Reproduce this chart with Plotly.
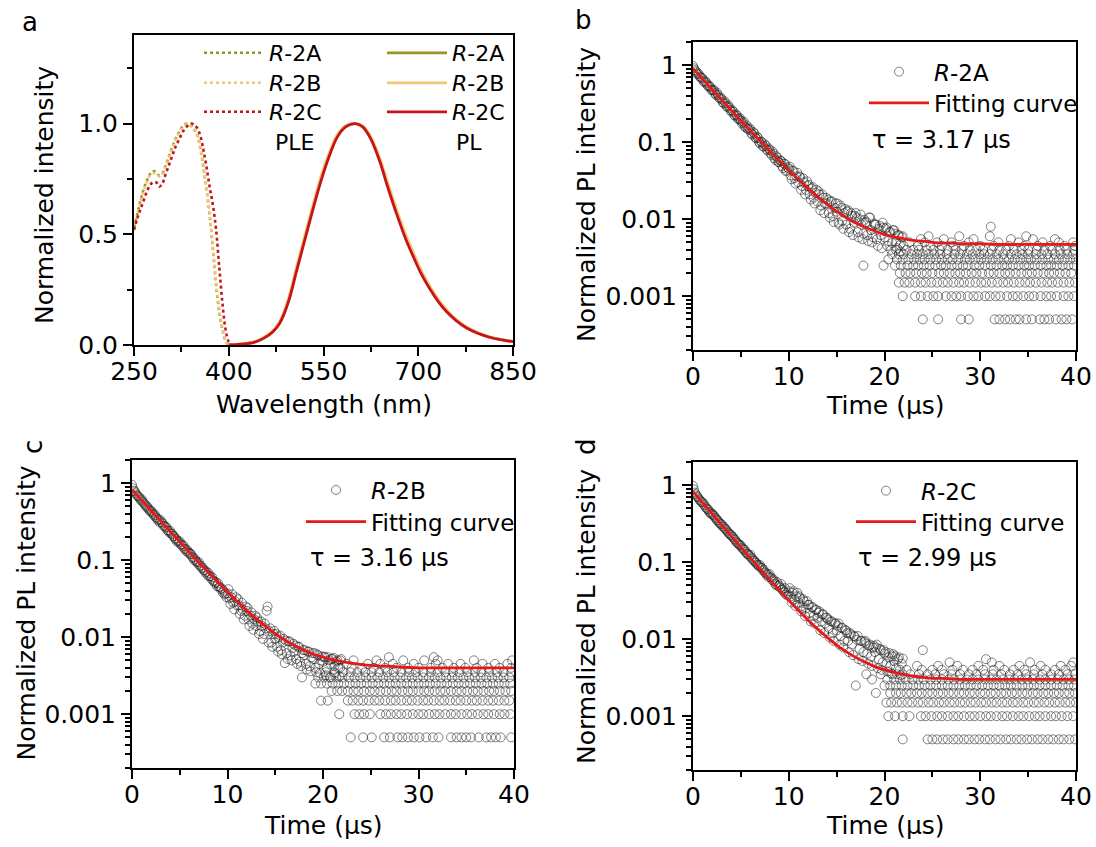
import plotly.graph_objects as go

W, H = 1096, 847
FONT = "DejaVu Sans"

# ---------------- panel a : PLE / PL spectra ----------------
ple_wl = [250, 255, 260, 265, 270, 275, 280, 285, 290, 295, 300, 305, 310, 315, 320, 325,
          330, 335, 340, 345, 350, 355, 360, 365, 370, 375, 380, 385, 390, 395, 400, 405]
ple_2a = [0.53, 0.59, 0.65, 0.70, 0.74, 0.77, 0.785, 0.78, 0.765, 0.775, 0.81, 0.85, 0.89, 0.925, 0.955, 0.98,
          0.995, 1.0, 0.99, 0.975, 0.95, 0.89, 0.80, 0.70, 0.58, 0.43, 0.27, 0.15, 0.07, 0.02, 0.0, 0.0]
ple_2b = [0.52, 0.585, 0.645, 0.695, 0.735, 0.765, 0.775, 0.775, 0.76, 0.77, 0.805, 0.845, 0.885, 0.92, 0.95, 0.975,
          0.99, 1.0, 0.99, 0.975, 0.945, 0.885, 0.80, 0.70, 0.585, 0.44, 0.28, 0.16, 0.075, 0.025, 0.002, 0.0]
ple_2c = [0.52, 0.57, 0.61, 0.65, 0.69, 0.72, 0.735, 0.735, 0.715, 0.73, 0.77, 0.81, 0.85, 0.89, 0.92, 0.95,
          0.975, 0.99, 1.0, 0.995, 0.98, 0.945, 0.88, 0.80, 0.71, 0.63, 0.52, 0.35, 0.19, 0.07, 0.015, 0.0]

pl_wl = [400, 420, 440, 455, 470, 481, 495, 507, 520, 534, 547, 560, 572, 585, 600, 612,
         625, 639, 652, 666, 680, 692, 705, 718, 732, 745, 760, 776, 795, 813, 830, 850]
pl_2a = [0.0, 0.004, 0.013, 0.031, 0.062, 0.103, 0.205, 0.34, 0.48, 0.63, 0.76, 0.865, 0.945, 0.988, 1.0, 0.988,
         0.935, 0.837, 0.72, 0.60, 0.49, 0.41, 0.327, 0.26, 0.20, 0.154, 0.113, 0.08, 0.054, 0.036, 0.025, 0.015]
pl_2b = [0.0, 0.005, 0.014, 0.033, 0.066, 0.108, 0.215, 0.35, 0.49, 0.64, 0.77, 0.875, 0.95, 0.99, 1.0, 0.99,
         0.94, 0.845, 0.73, 0.61, 0.50, 0.42, 0.335, 0.268, 0.205, 0.158, 0.116, 0.082, 0.055, 0.037, 0.025, 0.016]
pl_2c = [0.0, 0.004, 0.012, 0.03, 0.06, 0.10, 0.20, 0.33, 0.47, 0.62, 0.75, 0.86, 0.94, 0.985, 1.0, 0.985,
         0.93, 0.83, 0.71, 0.59, 0.48, 0.40, 0.32, 0.255, 0.195, 0.15, 0.11, 0.078, 0.052, 0.035, 0.024, 0.015]

# ---------------- panels b-d : PL decay ----------------
decay_t = [0.0, 0.2, 0.4, 0.6, 0.8, 1.0, 1.2, 1.4, 1.6, 1.8, 2.0, 2.2, 2.4, 2.6, 2.8,
           3.0, 3.2, 3.4, 3.6, 3.8, 4.0, 4.2, 4.4, 4.6, 4.8, 5.0, 5.2, 5.4, 5.6, 5.8,
           6.0, 6.2, 6.4, 6.6, 6.8, 7.0, 7.2, 7.4, 7.6, 7.8, 8.0, 8.2, 8.4, 8.6, 8.8,
           9.0, 9.2, 9.4, 9.6, 9.8, 10.0, 10.2, 10.4, 10.6, 10.8, 11.0, 11.2, 11.4, 11.6, 11.8,
           12.0, 12.2, 12.4, 12.6, 12.8, 13.0, 13.2, 13.4, 13.6, 13.8, 14.0, 14.2, 14.4, 14.6, 14.8,
           15.0, 15.2, 15.4, 15.6, 15.8, 16.0, 16.2, 16.4, 16.6, 16.8, 17.0, 17.2, 17.4, 17.6, 17.8,
           18.0, 18.2, 18.4, 18.6, 18.8, 19.0, 19.2, 19.4, 19.6, 19.8, 20.0, 20.2, 20.4, 20.6, 20.8,
           21.0, 21.2, 21.4, 21.6, 21.8]
decay_t2 = [0.1, 0.3, 0.5, 0.7, 0.9, 1.1, 1.3, 1.5, 1.7, 1.9, 2.1, 2.3, 2.5, 2.7, 2.9,
            3.1, 3.3, 3.5, 3.7, 3.9, 4.1, 4.3, 4.5, 4.7, 4.9, 5.1, 5.3, 5.5, 5.7, 5.9,
            6.1, 6.3, 6.5, 6.7, 6.9, 7.1, 7.3, 7.5, 7.7, 7.9, 8.1, 8.3, 8.5, 8.7, 8.9,
            9.1, 9.3, 9.5, 9.7, 9.9, 10.1, 10.3, 10.5, 10.7, 10.9, 11.1, 11.3, 11.5, 11.7, 11.9,
            12.1, 12.3, 12.5, 12.7, 12.9, 13.1, 13.3, 13.5, 13.7, 13.9, 14.1, 14.3, 14.5, 14.7, 14.9,
            15.1, 15.3, 15.5, 15.7, 15.9, 16.1, 16.3, 16.5, 16.7, 16.9, 17.1, 17.3, 17.5, 17.7, 17.9,
            18.1, 18.3, 18.5, 18.7, 18.9, 19.1, 19.3, 19.5, 19.7, 19.9, 20.1, 20.3, 20.5, 20.7, 20.9,
            21.1, 21.3, 21.5, 21.7, 21.9]

b_decay = [0.98, 0.86, 0.77, 0.76, 0.69, 0.67, 0.60, 0.59, 0.53, 0.52, 0.47, 0.47, 0.41, 0.41, 0.37,
           0.36, 0.32, 0.32, 0.29, 0.28, 0.25, 0.25, 0.22, 0.22, 0.20, 0.19, 0.18, 0.16, 0.165, 0.145,
           0.145, 0.125, 0.13, 0.112, 0.113, 0.096, 0.10, 0.088, 0.09, 0.078, 0.08, 0.068, 0.071, 0.059, 0.063,
           0.055, 0.057, 0.046, 0.052, 0.043, 0.045, 0.037, 0.043, 0.034, 0.036, 0.030, 0.035, 0.027, 0.030, 0.024,
           0.027, 0.021, 0.025, 0.019, 0.022, 0.017, 0.021, 0.015, 0.019, 0.016, 0.016, 0.012, 0.017, 0.011, 0.014,
           0.0125, 0.009, 0.015, 0.0095, 0.012, 0.0085, 0.013, 0.0075, 0.011, 0.009, 0.012, 0.0068, 0.010, 0.0085, 0.0065,
           0.009, 0.0062, 0.0105, 0.0072, 0.0058, 0.0085, 0.0055, 0.0075, 0.0062, 0.009, 0.0058, 0.0078, 0.0052, 0.0068, 0.0049,
           0.0072, 0.0051, 0.0062, 0.0046, 0.0058]
b_decay2 = [0.91, 0.83, 0.79, 0.71, 0.69, 0.62, 0.62, 0.55, 0.54, 0.48, 0.48, 0.43, 0.44, 0.38, 0.38,
            0.33, 0.34, 0.29, 0.30, 0.26, 0.26, 0.225, 0.23, 0.20, 0.205, 0.175, 0.185, 0.155, 0.15, 0.152,
            0.13, 0.135, 0.115, 0.118, 0.10, 0.102, 0.088, 0.094, 0.080, 0.083, 0.072, 0.076, 0.062, 0.066, 0.055,
            0.058, 0.049, 0.053, 0.042, 0.047, 0.048, 0.033, 0.042, 0.029, 0.040, 0.036, 0.024, 0.034, 0.021, 0.031,
            0.028, 0.018, 0.026, 0.016, 0.024, 0.023, 0.013, 0.021, 0.012, 0.019, 0.018, 0.0105, 0.017, 0.0092, 0.016,
            0.016, 0.0085, 0.014, 0.0075, 0.0135, 0.0125, 0.0068, 0.012, 0.0062, 0.011, 0.0105, 0.0058, 0.0115, 0.0055, 0.0098,
            0.0092, 0.0052, 0.0105, 0.005, 0.0088, 0.0085, 0.0045, 0.0082, 0.0042, 0.0078, 0.0075, 0.0045, 0.0068, 0.004, 0.0072,
            0.0065, 0.0042, 0.0062, 0.0038, 0.006]
c_decay = [0.95, 0.80, 0.74, 0.68, 0.64, 0.62, 0.56, 0.52, 0.50, 0.45, 0.44, 0.40, 0.39, 0.35, 0.34,
           0.33, 0.30, 0.28, 0.27, 0.24, 0.24, 0.22, 0.205, 0.19, 0.18, 0.175, 0.16, 0.155, 0.14, 0.135,
           0.125, 0.12, 0.108, 0.104, 0.095, 0.094, 0.085, 0.080, 0.074, 0.071, 0.068, 0.062, 0.060, 0.053, 0.052,
           0.050, 0.045, 0.043, 0.040, 0.037, 0.037, 0.032, 0.033, 0.028, 0.029, 0.026, 0.026, 0.022, 0.023, 0.019,
           0.022, 0.017, 0.019, 0.015, 0.017, 0.014, 0.016, 0.012, 0.014, 0.011, 0.013, 0.025, 0.012, 0.0085, 0.011,
           0.0095, 0.0075, 0.010, 0.0068, 0.0085, 0.0046, 0.0062, 0.0088, 0.0058, 0.0072, 0.0065, 0.0052, 0.0075, 0.0048, 0.0062,
           0.0058, 0.0045, 0.0065, 0.0042, 0.0055, 0.0052, 0.0040, 0.0060, 0.0045, 0.0050, 0.0048, 0.0055, 0.0040, 0.0050, 0.0045,
           0.0052, 0.0042, 0.0048, 0.0040, 0.0050]
c_decay2 = [0.86, 0.78, 0.70, 0.67, 0.60, 0.58, 0.54, 0.49, 0.47, 0.43, 0.42, 0.38, 0.36, 0.33, 0.31,
            0.31, 0.28, 0.265, 0.245, 0.23, 0.22, 0.205, 0.19, 0.175, 0.17, 0.16, 0.15, 0.14, 0.13, 0.125,
            0.12, 0.11, 0.10, 0.097, 0.09, 0.085, 0.079, 0.074, 0.069, 0.064, 0.062, 0.057, 0.054, 0.050, 0.046,
            0.045, 0.042, 0.038, 0.036, 0.033, 0.042, 0.027, 0.036, 0.023, 0.033, 0.031, 0.020, 0.028, 0.017, 0.025,
            0.024, 0.014, 0.021, 0.0125, 0.019, 0.018, 0.011, 0.016, 0.0095, 0.015, 0.022, 0.0085, 0.013, 0.0075, 0.012,
            0.011, 0.0065, 0.0105, 0.006, 0.0095, 0.009, 0.0052, 0.0088, 0.005, 0.0082, 0.0078, 0.0045, 0.0075, 0.0042, 0.0068,
            0.0068, 0.0038, 0.0065, 0.0036, 0.0062, 0.0062, 0.0035, 0.0058, 0.0034, 0.0056, 0.0056, 0.0032, 0.0055, 0.003, 0.0052,
            0.0054, 0.0034, 0.005, 0.0031, 0.0052]
d_decay = [0.98, 0.80, 0.72, 0.67, 0.62, 0.60, 0.55, 0.50, 0.48, 0.44, 0.43, 0.40, 0.37, 0.35, 0.32,
           0.31, 0.29, 0.27, 0.25, 0.235, 0.225, 0.21, 0.195, 0.18, 0.17, 0.165, 0.15, 0.145, 0.13, 0.125,
           0.125, 0.11, 0.105, 0.098, 0.092, 0.092, 0.084, 0.080, 0.072, 0.070, 0.070, 0.062, 0.060, 0.052, 0.055,
           0.050, 0.052, 0.044, 0.046, 0.040, 0.042, 0.036, 0.040, 0.033, 0.036, 0.030, 0.034, 0.027, 0.031, 0.025,
           0.028, 0.022, 0.026, 0.020, 0.024, 0.019, 0.023, 0.017, 0.021, 0.016, 0.019, 0.014, 0.017, 0.012, 0.016,
           0.013, 0.016, 0.011, 0.014, 0.0095, 0.013, 0.0095, 0.012, 0.0085, 0.011, 0.0025, 0.011, 0.0075, 0.0095, 0.0068,
           0.0095, 0.0065, 0.0082, 0.006, 0.0078, 0.0068, 0.0085, 0.0055, 0.0072, 0.005, 0.0065, 0.0048, 0.0058, 0.0045, 0.006,
           0.0052, 0.0042, 0.0055, 0.004, 0.0048]
d_decay2 = [0.88, 0.76, 0.70, 0.64, 0.60, 0.57, 0.52, 0.49, 0.45, 0.42, 0.41, 0.38, 0.35, 0.33, 0.31,
            0.29, 0.275, 0.26, 0.24, 0.225, 0.215, 0.20, 0.185, 0.175, 0.165, 0.155, 0.145, 0.135, 0.128, 0.12,
            0.115, 0.105, 0.10, 0.093, 0.088, 0.085, 0.078, 0.074, 0.068, 0.064, 0.064, 0.058, 0.056, 0.050, 0.049,
            0.047, 0.044, 0.041, 0.038, 0.037, 0.046, 0.030, 0.042, 0.027, 0.040, 0.036, 0.023, 0.033, 0.020, 0.031,
            0.028, 0.017, 0.026, 0.016, 0.024, 0.022, 0.013, 0.021, 0.012, 0.019, 0.018, 0.0105, 0.017, 0.0095, 0.016,
            0.015, 0.0085, 0.014, 0.0078, 0.013, 0.012, 0.0068, 0.0115, 0.0062, 0.0108, 0.0098, 0.0055, 0.0095, 0.0052, 0.0092,
            0.0088, 0.0048, 0.0085, 0.0045, 0.0082, 0.0078, 0.0042, 0.0075, 0.0040, 0.0072, 0.0068, 0.0038, 0.0066, 0.0036, 0.0064,
            0.006, 0.0035, 0.0058, 0.0034, 0.0056]

# quantised tail (photon-count levels) : level value -> times (us)
b_tail_levels = [0.0005, 0.001, 0.0015, 0.002, 0.0025, 0.003, 0.0035, 0.004, 0.0045, 0.005, 0.0055, 0.006, 0.008]
b_tail_times = [
    [24.0, 25.6, 28.0, 28.8, 31.5, 32.0, 32.6, 33.1, 33.7, 34.1, 34.8, 35.4, 36.2, 36.7, 37.2, 37.9, 38.5, 39.0, 39.6],
    [21.9, 23.2, 23.8, 24.5, 25.1, 25.6, 26.4, 27.0, 27.5, 28.0, 28.7, 29.3, 29.8, 30.5, 31.0, 31.6, 32.1, 32.8, 33.4,
     33.9, 34.5, 35.1, 35.6, 36.3, 36.9, 37.4, 38.0, 38.7, 39.2, 39.8],
    [21.5, 22.1, 22.6, 23.2, 23.8, 24.3, 24.9, 25.5, 26.1, 26.6, 27.2, 27.8, 28.3, 28.9, 29.5, 30.1, 30.6, 31.2, 31.8,
     32.4, 32.9, 33.5, 34.1, 34.7, 35.2, 35.8, 36.4, 37.0, 37.5, 38.1, 38.7, 39.3, 39.9],
    [21.6, 22.2, 22.7, 23.3, 23.9, 24.4, 25.0, 25.7, 26.2, 26.8, 27.4, 27.9, 28.5, 29.1, 29.6, 30.2, 30.9, 31.4, 32.0,
     32.6, 33.1, 33.7, 34.3, 34.9, 35.4, 36.0, 36.6, 37.2, 37.7, 38.3, 38.9, 39.5],
    [17.8, 19.9, 21.1, 21.7, 22.4, 23.0, 23.5, 24.1, 24.7, 25.3, 25.9, 26.4, 27.0, 27.6, 28.2, 28.7, 29.4, 29.9, 30.5,
     31.1, 31.7, 32.3, 32.8, 33.4, 34.0, 34.6, 35.1, 35.7, 36.3, 36.9, 37.4, 38.0, 38.6, 39.2, 39.8],
    [20.4, 21.3, 21.9, 22.5, 23.1, 23.7, 24.2, 24.8, 25.4, 26.0, 26.6, 27.1, 27.7, 28.4, 28.9, 29.5, 30.1, 30.7, 31.3,
     31.9, 32.5, 33.0, 33.6, 34.2, 34.8, 35.3, 35.9, 36.5, 37.1, 37.7, 38.2, 38.8, 39.4, 40.0],
    [20.8, 21.5, 22.0, 22.8, 23.4, 24.0, 24.6, 25.2, 25.8, 26.5, 27.3, 27.9, 28.6, 29.2, 29.9, 30.4, 31.0, 31.7, 32.4,
     33.2, 33.8, 34.4, 35.0, 35.8, 36.4, 37.0, 37.8, 38.4, 39.1, 39.7],
    [21.2, 22.3, 23.0, 23.6, 24.4, 25.1, 25.8, 26.6, 27.4, 28.1, 28.9, 29.6, 30.3, 31.2, 32.0, 32.7, 33.5, 34.3, 35.0,
     35.9, 36.7, 37.5, 38.3, 39.0, 39.8],
    [22.0, 23.5, 24.8, 26.0, 27.2, 28.3, 30.0, 31.4, 33.0, 34.6, 36.0, 37.3, 38.8, 39.9],
    [22.6, 24.2, 25.5, 27.0, 28.8, 31.9, 34.0, 36.5, 38.2, 39.7],
    [23.8, 26.2, 29.3, 33.2, 35.5, 37.8],
    [24.6, 27.8, 31.0, 34.8],
    [31.1],
]
c_tail_levels = [0.0005, 0.001, 0.0015, 0.002, 0.0025, 0.003, 0.0035, 0.004, 0.0045, 0.005, 0.0055]
c_tail_times = [
    [22.9, 24.2, 25.1, 26.4, 27.0, 27.8, 28.3, 28.9, 29.5, 30.1, 30.8, 31.5, 32.1, 33.4, 34.0, 34.5, 35.0, 35.5, 36.3,
     37.1, 37.6, 38.1, 38.6, 39.7],
    [21.7, 23.3, 23.8, 24.3, 24.9, 26.0, 26.6, 27.1, 27.7, 28.2, 28.8, 29.4, 30.0, 30.5, 31.1, 31.7, 32.2, 32.8, 33.4,
     33.9, 34.5, 35.1, 35.6, 36.2, 36.8, 37.3, 37.9, 38.5, 39.0, 39.6],
    [19.8, 20.5, 22.6, 23.1, 23.7, 24.2, 24.8, 25.4, 25.9, 26.5, 27.1, 27.6, 28.2, 28.8, 29.3, 29.9, 30.5, 31.0, 31.6,
     32.2, 32.7, 33.3, 33.9, 34.4, 35.0, 35.6, 36.1, 36.7, 37.3, 37.8, 38.4, 39.0, 39.5],
    [20.9, 21.5, 22.0, 22.6, 23.2, 23.7, 24.3, 24.9, 25.4, 26.0, 26.6, 27.2, 27.7, 28.3, 28.9, 29.4, 30.0, 30.6, 31.1,
     31.7, 32.3, 32.8, 33.4, 34.0, 34.5, 35.1, 35.7, 36.2, 36.8, 37.4, 37.9, 38.5, 39.1, 39.7],
    [19.2, 19.8, 20.4, 21.0, 21.6, 22.2, 22.8, 23.4, 24.0, 24.6, 25.2, 25.8, 26.4, 27.0, 27.6, 28.2, 28.8, 29.4, 30.0,
     30.6, 31.2, 31.8, 32.4, 33.0, 33.6, 34.2, 34.8, 35.4, 36.0, 36.6, 37.2, 37.8, 38.4, 39.0, 39.6],
    [17.8, 19.5, 20.1, 20.8, 21.4, 22.0, 22.7, 23.3, 23.9, 24.5, 25.1, 25.7, 26.3, 26.9, 27.5, 28.1, 28.7, 29.3, 29.9,
     30.5, 31.1, 31.7, 32.3, 32.9, 33.5, 34.1, 34.7, 35.3, 35.9, 36.5, 37.1, 37.7, 38.3, 38.9, 39.5],
    [20.3, 21.2, 22.1, 22.9, 23.6, 24.4, 25.1, 25.9, 26.7, 27.4, 28.2, 29.0, 29.7, 30.5, 31.3, 32.0, 32.8, 33.6, 34.3,
     35.1, 35.9, 36.6, 37.4, 38.2, 38.9, 39.7],
    [21.8, 23.0, 24.1, 25.3, 26.5, 27.7, 28.9, 30.0, 31.3, 32.5, 33.7, 34.9, 36.1, 37.3, 38.5, 39.7],
    [22.5, 24.7, 26.0, 27.3, 29.5, 31.8, 33.1, 34.4, 36.7, 38.0, 39.3],
    [23.2, 25.6, 28.4, 30.6, 32.0, 35.8, 39.8],
    [26.9, 31.6],
]
d_tail_levels = [0.0005, 0.001, 0.0015, 0.002, 0.0025, 0.003, 0.0035, 0.004, 0.0045, 0.005, 0.0055, 0.0072]
d_tail_times = [
    [21.9, 24.5, 25.0, 25.5, 26.1, 26.6, 27.2, 27.7, 28.3, 28.8, 29.4, 29.9, 30.5, 31.0, 31.6, 32.1, 32.7, 33.2, 33.8,
     34.3, 34.9, 35.4, 36.0, 36.5, 37.1, 37.6, 38.2, 38.7, 39.3, 39.9],
    [20.4, 21.1, 21.9, 22.6, 23.8, 24.3, 24.9, 25.5, 26.0, 26.6, 27.2, 27.7, 28.3, 28.9, 29.4, 30.0, 30.6, 31.1, 31.7,
     32.3, 32.8, 33.4, 34.0, 34.5, 35.1, 35.7, 36.2, 36.8, 37.4, 37.9, 38.5, 39.1, 39.7],
    [20.2, 20.7, 21.3, 21.8, 22.4, 22.9, 23.5, 24.0, 24.6, 25.1, 25.7, 26.2, 26.8, 27.3, 27.9, 28.4, 29.0, 29.5, 30.1,
     30.6, 31.2, 31.7, 32.3, 32.8, 33.4, 33.9, 34.5, 35.0, 35.6, 36.1, 36.7, 37.2, 37.8, 38.3, 38.9, 39.4, 40.0],
    [19.1, 20.6, 21.2, 21.7, 22.3, 22.8, 23.4, 23.9, 24.5, 25.0, 25.6, 26.1, 26.7, 27.2, 27.8, 28.3, 28.9, 29.4, 30.0,
     30.5, 31.1, 31.6, 32.2, 32.7, 33.3, 33.8, 34.4, 34.9, 35.5, 36.0, 36.6, 37.1, 37.7, 38.2, 38.8, 39.3, 39.9],
    [20.0, 20.6, 21.2, 21.8, 22.4, 23.0, 23.6, 24.2, 24.8, 25.4, 26.0, 26.6, 27.2, 27.8, 28.4, 29.0, 29.6, 30.2, 30.8,
     31.4, 32.0, 32.6, 33.2, 33.8, 34.4, 35.0, 35.6, 36.2, 36.8, 37.4, 38.0, 38.6, 39.2, 39.8],
    [18.7, 20.3, 21.0, 21.6, 22.2, 22.9, 23.5, 24.1, 24.8, 25.4, 26.0, 26.7, 27.3, 27.9, 28.6, 29.2, 29.8, 30.5, 31.1,
     31.7, 32.4, 33.0, 33.6, 34.3, 34.9, 35.5, 36.2, 36.8, 37.4, 38.1, 38.7, 39.3, 39.9],
    [18.1, 19.6, 20.8, 21.9, 22.7, 23.6, 24.5, 25.3, 26.2, 27.0, 27.9, 28.8, 29.6, 30.5, 31.3, 32.2, 33.1, 33.9, 34.8,
     35.6, 36.5, 37.4, 38.2, 39.1, 39.9],
    [22.3, 23.9, 25.0, 26.0, 27.1, 28.2, 29.2, 30.3, 31.4, 32.5, 33.5, 34.6, 35.7, 36.8, 37.8, 38.9],
    [23.4, 25.6, 27.6, 29.8, 32.0, 34.1, 36.3, 38.4, 39.5],
    [26.8, 31.2, 35.2, 39.7],
    [30.6],
    [24.0],
]

# fitted mono-exponential curves
fit_t = [0, 1, 2, 3, 4, 5, 6, 7, 8, 9, 10, 11, 12, 13, 14, 15, 16, 17, 18, 19, 20,
         21, 22, 23, 24, 25, 26, 27, 28, 30, 32, 35, 40]
b_fit = [0.905, 0.661, 0.483, 0.354, 0.260, 0.191, 0.140, 0.104, 0.0769, 0.0574, 0.0431, 0.0327, 0.0251,
         0.0196, 0.0156, 0.0126, 0.0105, 0.0089, 0.0078, 0.0070, 0.0063, 0.0059, 0.0056, 0.0053, 0.0052,
         0.0050, 0.0049, 0.0049, 0.0048, 0.0048, 0.0047, 0.0047, 0.0047]
c_fit = [0.824, 0.602, 0.439, 0.321, 0.235, 0.173, 0.127, 0.0935, 0.0693, 0.0516, 0.0386, 0.0293, 0.0224,
         0.0174, 0.0138, 0.0111, 0.0092, 0.0078, 0.0068, 0.0060, 0.0055, 0.0051, 0.0048, 0.0046, 0.0044,
         0.0043, 0.0042, 0.0042, 0.0041, 0.0040, 0.0040, 0.0040, 0.0040]
d_fit = [0.823, 0.590, 0.423, 0.304, 0.218, 0.157, 0.113, 0.0819, 0.0595, 0.0434, 0.0319, 0.0237, 0.0178,
         0.0136, 0.0106, 0.0084, 0.0069, 0.0058, 0.0050, 0.0044, 0.0040, 0.0037, 0.0035, 0.0033, 0.0032,
         0.0031, 0.0031, 0.00305, 0.0030, 0.0030, 0.0030, 0.0030, 0.0030]

samples = ["<i>R</i>-2A", "<i>R</i>-2B", "<i>R</i>-2C"]
taus = ["τ = 3.17 μs", "τ = 3.16 μs", "τ = 2.99 μs"]

C_2A = "rgb(150,150,40)"
C_2B = "rgb(240,200,120)"
C_2C = "rgb(200,20,25)"
C_FIT = "rgb(230,25,25)"
C_PT = "rgba(30,30,30,0.55)"


def px(x):
    return x / W


def py(y):
    return 1 - y / H


# one legend per row so that every row sits where the reference puts it
# (legend id, left x px, row-centre y px, font size)
legend_rows = [
    ("legend", 199, 53, 22), ("legend2", 199, 83, 22), ("legend3", 199, 112, 22),
    ("legend4", 382, 53, 22), ("legend5", 382, 83, 22), ("legend6", 382, 112, 22),
    ("legend7", 864, 71.7, 23), ("legend8", 864, 103, 23),
    ("legend9", 301, 490, 23), ("legend10", 301, 521.7, 23),
    ("legend11", 851, 490.7, 23), ("legend12", 851, 521.7, 23),
]

fig = go.Figure()

# panel a traces
for i, (name, ys, col) in enumerate(zip(samples, [ple_2a, ple_2b, ple_2c], [C_2A, C_2B, C_2C])):
    fig.add_trace(go.Scatter(x=ple_wl, y=ys, mode="lines", name=name, legend=legend_rows[i][0],
                             showlegend=True,
                             line=dict(color=col, width=2.6, dash="dot", shape="spline"),
                             xaxis="x", yaxis="y"))
for i, (name, ys, col) in enumerate(zip(samples, [pl_2a, pl_2b, pl_2c], [C_2A, C_2B, C_2C])):
    fig.add_trace(go.Scatter(x=pl_wl, y=ys, mode="lines", name=name, legend=legend_rows[3 + i][0],
                             line=dict(color=col, width=2.8, shape="spline"),
                             xaxis="x", yaxis="y"))

# panels b-d traces
panels = [
    ("x2", "y2", 6, b_decay, b_decay2, b_tail_levels, b_tail_times, b_fit),
    ("x3", "y3", 8, c_decay, c_decay2, c_tail_levels, c_tail_times, c_fit),
    ("x4", "y4", 10, d_decay, d_decay2, d_tail_levels, d_tail_times, d_fit),
]
marker = dict(symbol="circle-open", size=9, color=C_PT, line=dict(width=1, color=C_PT))
for (xa, ya, li, dec, dec2, lvls, tms, fit), name in zip(panels, samples):
    fig.add_trace(go.Scatter(x=decay_t, y=dec, mode="markers", name=name, legend=legend_rows[li][0],
                             marker=marker, xaxis=xa, yaxis=ya))
    tx, ty = list(decay_t2), list(dec2)
    for lv, ts in zip(lvls, tms):
        tx += ts
        ty += [lv] * len(ts)
    fig.add_trace(go.Scatter(x=tx, y=ty, mode="markers", showlegend=False, legend=legend_rows[li][0],
                             marker=marker, xaxis=xa, yaxis=ya))
    fig.add_trace(go.Scatter(x=fit_t, y=fit, mode="lines", name="Fitting curve",
                             legend=legend_rows[li + 1][0],
                             line=dict(color=C_FIT, width=2.8, shape="spline"),
                             xaxis=xa, yaxis=ya))

tickfont = dict(family=FONT, size=25, color="black")
common = dict(showline=True, linecolor="black", linewidth=2, mirror=True, ticks="outside",
              ticklen=9, tickwidth=2, tickcolor="black", showgrid=False, zeroline=False,
              tickfont=tickfont, automargin=False)

log_minor = [k * 10.0 ** e for e in range(-4, 1) for k in range(2, 10) if 2e-4 <= k * 10.0 ** e <= 2]

dom = {
    "a": ([134, 513], [35, 345]),
    "b": ([693, 1076], [42, 350]),
    "c": ([132, 514], [460, 768]),
    "d": ([693, 1076], [462, 770]),
}


def xd(k):
    return [px(dom[k][0][0]), px(dom[k][0][1])]


def yd(k):
    return [py(dom[k][1][1]), py(dom[k][1][0])]


fig.update_layout(
    xaxis=dict(domain=xd("a"), anchor="y", range=[250, 850], tickvals=[250, 400, 550, 700, 850],
               ticklabelstandoff=-6,
               minor=dict(tickvals=[325, 475, 625, 775], ticks="outside", ticklen=5, tickwidth=2,
                          tickcolor="black"), **common),
    yaxis=dict(domain=yd("a"), anchor="x", range=[0, 1.4], tickvals=[0, 0.5, 1.0],
               ticktext=["0.0", "0.5", "1.0"],
               minor=dict(tickvals=[0.25, 0.75, 1.25], ticks="outside", ticklen=5, tickwidth=2,
                          tickcolor="black"), **common),
)
for i, k in zip([2, 3, 4], ["b", "c", "d"]):
    fig.update_layout({
        f"xaxis{i}": dict(domain=xd(k), anchor=f"y{i}", range=[0, 40], tickvals=[0, 10, 20, 30, 40],
                          ticklabelstandoff=-6,
                          minor=dict(tickvals=[5, 15, 25, 35], ticks="outside", ticklen=5, tickwidth=2,
                                     tickcolor="black"), **common),
        f"yaxis{i}": dict(domain=yd(k), anchor=f"x{i}", type="log", range=[-3.699, 0.301],
                          tickvals=[0.001, 0.01, 0.1, 1], ticktext=["0.001", "0.01", "0.1", "1"],
                          minor=dict(tickvals=log_minor, ticks="outside", ticklen=5, tickwidth=1.5,
                                     tickcolor="black"), **common),
    })

for lid, lx, ly, fs in legend_rows:
    fig.update_layout({lid: dict(x=px(lx), y=py(ly), xanchor="left", yanchor="middle",
                                 bgcolor="rgba(0,0,0,0)", borderwidth=0, itemwidth=60,
                                 font=dict(family=FONT, size=fs, color="black"))})

ann = []


def text(t, x, y, size=25, angle=0, xanchor="center"):
    ann.append(dict(text=t, x=px(x), y=py(y), xref="paper", yref="paper", showarrow=False,
                    textangle=angle, xanchor=xanchor, yanchor="middle",
                    font=dict(family=FONT, size=size, color="black")))


text("a", 30, 22, 26)
text("b", 583, 20, 26)
text("c", 33, 447, 26, -90)
text("d", 586, 447, 26, -90)
text("Wavelength (nm)", 323.5, 404)
text("Normalized intensity", 44, 195, angle=-90)
text("Time (μs)", 885, 405)
text("Normalized PL intensity", 586, 195, angle=-90)
text("Time (μs)", 323, 825)
text("Normalized PL intensity", 25.5, 613, angle=-90)
text("Time (μs)", 885, 825)
text("Normalized PL intensity", 586, 617, angle=-90)
text("PLE", 273, 143, 22, xanchor="left")
text("PL", 454, 143, 22, xanchor="left")
text(taus[0], 870, 140, 24, xanchor="left")
text(taus[1], 308, 558, 24, xanchor="left")
text(taus[2], 856, 558, 24, xanchor="left")

fig.update_layout(annotations=ann, width=W, height=H, showlegend=True,
                  margin=dict(l=0, r=0, t=0, b=0, autoexpand=False),
                  paper_bgcolor="white", plot_bgcolor="white", font=dict(family=FONT))

fig.write_html("out.html", config={"displayModeBar": False},
               post_script="document.body.style.margin='0px';")
